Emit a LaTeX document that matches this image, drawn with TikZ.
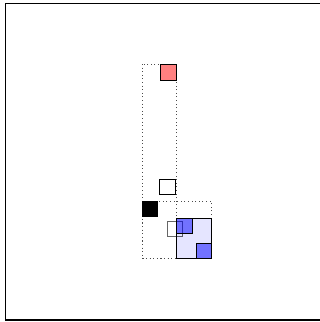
\documentclass[tikz,border=0pt]{standalone}
\usepackage{tikz}
\usetikzlibrary{positioning}
\usepackage{xcolor}

\tikzset{
  cellbox/.style={draw=black, line width=0.8pt},
  zonebox/.style={draw=black!70, line width=0.7pt, dash pattern=on 0.8pt off 2.8pt}
}

\begin{document}
\begin{tikzpicture}[x=1pt, y=-1pt]
      \useasboundingbox (0,0) rectangle (320,322);
      \draw[line width=1.5pt]
        (5.5,3.5) rectangle (322,320);
      \draw[zonebox] (142,64) rectangle (176,258);
      \draw[zonebox] (142,201) rectangle (211,258);
      \draw[cellbox, fill=red!50] (160,64) rectangle (176,80);
      \draw[cellbox, fill=white] (159,179) rectangle (175,194);
      \draw[cellbox, fill=black] (142,201) rectangle (157,216);
      \draw[cellbox, fill=blue!10] (176,218) rectangle (211,258);
      \draw[cellbox, draw opacity=0.6] (167,221) rectangle (182,236);
      \draw[cellbox, fill=blue, fill opacity=0.5] (176,218) rectangle (192,233);
      \draw[cellbox, fill=blue, fill opacity=0.5] (196,243) rectangle (211,258);
    \end{tikzpicture}
\end{document}
